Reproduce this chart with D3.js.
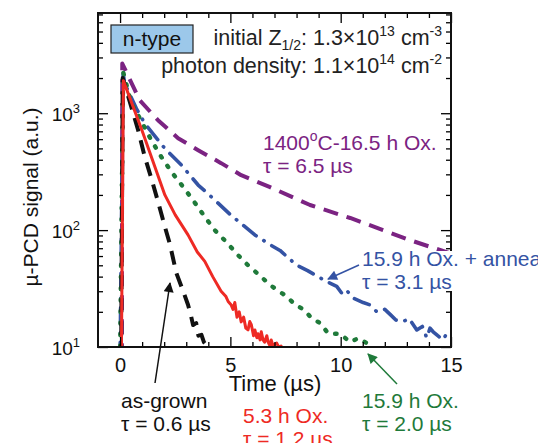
<!DOCTYPE html>
<html>
<head>
<meta charset="utf-8">
<script src="https://cdn.jsdelivr.net/npm/d3@7"></script>
<style>
body { margin: 0; background: #fff; }
svg text { font-family: Arial, "Liberation Sans", sans-serif; }
</style>
</head>
<body>
<svg id="chart" width="538" height="443"></svg>
<script>
// ---- data (time in us, signal in a.u.) ----
var asGrownT = [0.05, 0.12, 0.5, 0.82, 1.12, 1.42, 1.72, 2.03, 2.25, 2.55, 2.86, 3.08, 3.2, 3.31, 3.45, 3.55, 3.69, 3.8, 3.91, 4.0]
var asGrownV = [8, 2000, 1150, 716, 423, 277, 175, 107, 77, 43, 30, 23, 19, 15.4, 16, 12.5, 12.7, 11, 10.4, 9.5]

var ox53T = [0.06, 0.15, 1.0, 2.03, 2.5, 3.08, 3.5, 3.84, 4.2, 4.58, 4.8, 4.9, 5.03, 5.12, 5.2, 5.3, 5.4, 5.49, 5.6, 5.7, 5.8, 5.88, 5.95, 6.05, 6.11, 6.2, 6.25, 6.35, 6.4, 6.48, 6.55, 6.65, 6.71, 6.8, 6.85, 6.95, 7.0, 7.1, 7.2, 7.3]
var ox53V = [8, 1900, 707, 200, 135, 91, 65, 54, 40, 30, 27, 24.5, 23, 21, 24, 18, 20, 16.4, 18, 14.5, 14, 16.5, 15.5, 12.5, 14, 12, 13, 11.5, 13.5, 11.5, 11, 12.5, 11, 10.2, 11.5, 10, 10.5, 10.8, 9.9, 10.2]

var ox159T = [0.0, 0.14, 0.51, 0.74, 1.42, 1.87, 2.33, 2.86, 3.31, 3.84, 4.29, 4.82, 5.35, 5.8, 6.33, 6.79, 7.1, 7.56, 7.93, 8.31, 8.69, 9.07, 9.44, 9.97, 10.43, 10.8, 11.18, 11.56]
var ox159V = [8, 2255, 1210, 1026, 587, 423, 315, 234, 180, 130, 100, 79, 61, 50, 41, 34, 31, 27, 23, 21, 17.6, 16, 13, 13, 11, 11.9, 10.8, 11]

var annealT = [0.0, 0.14, 0.21, 0.74, 1.12, 2.03, 2.78, 3.54, 3.9, 5.03, 6.11, 6.85, 7.25, 8.01, 8.5, 9.07, 9.4, 9.82, 10.1, 10.3, 10.6, 11.02, 11.3, 11.64, 12.0, 12.24, 12.5, 12.83, 13.1, 13.45, 13.7, 13.9, 14.05, 14.19, 14.4, 14.64, 14.8, 14.96]
var annealV = [8, 2200, 1795, 1096, 817, 499, 360, 243, 212, 134, 91, 74, 67, 50, 45, 39, 36, 33, 28, 30, 26, 24, 23, 20, 21, 19, 17, 16.5, 17.5, 14, 15, 12, 14.5, 13.5, 12.5, 11.5, 13, 12]

var ox1400T = [0.08, 0.1, 0.89, 1.72, 2.63, 3.54, 4.58, 5.49, 6.8, 8.61, 10.43, 11.92, 13.15, 14.05, 15]
var ox1400V = [8, 2660, 1290, 871, 611, 483, 374, 295, 233, 164, 127, 100, 82, 72, 63]

var xMajorTicks = [0, 5, 10, 15]
var xMinorTicks = [1, 2, 3, 4, 6, 7, 8, 9, 11, 12, 13, 14]
var yMajorTicks = [10, 100, 1000]
var yMinorTicks = [20, 30, 40, 50, 60, 70, 80, 90, 200, 300, 400, 500, 600, 700, 800, 900, 2000, 3000, 4000, 5000, 6000, 7000]

// ---- layout ----
var plotLeft = 98, plotRight = 451, plotTop = 13, plotBottom = 347

var svg = d3.select("#chart")

var x = d3.scaleLinear().domain([-1, 15]).range([plotLeft, plotRight])
var y = d3.scaleLog().domain([10, 7200]).range([plotBottom, plotTop])

// series, drawn back to front
var series = [
	{ t: ox1400T, v: ox1400V, color: "#7b2382", width: 4, dash: "15 9", cap: "butt" },
	{ t: annealT, v: annealV, color: "#3453a4", width: 3.6, dash: "16 9 0.5 9", cap: "round" },
	{ t: ox159T, v: ox159V, color: "#1f7a3a", width: 4.4, dash: "1.5 10", cap: "round" },
	{ t: asGrownT, v: asGrownV, color: "#111111", width: 4, dash: "14 9", cap: "butt" },
	{ t: ox53T, v: ox53V, color: "#ee2a24", width: 3, dash: null, cap: "round" }
]

var defs = svg.append("defs")
defs.append("clipPath").attr("id", "plotClip")
	.append("rect")
	.attr("x", plotLeft).attr("y", plotTop)
	.attr("width", plotRight - plotLeft).attr("height", plotBottom - plotTop)

var line = d3.line()
	.x(function(d) { return x(d[0]) })
	.y(function(d) { return y(d[1]) })

var plot = svg.append("g").attr("clip-path", "url(#plotClip)")

series.forEach(function(s) {
	var pts = s.t.map(function(t, i) { return [t, s.v[i]] })
	plot.append("path")
		.datum(pts)
		.attr("d", line)
		.attr("fill", "none")
		.attr("stroke", s.color)
		.attr("stroke-width", s.width)
		.attr("stroke-linecap", s.cap)
		.attr("stroke-linejoin", "round")
		.attr("stroke-dasharray", s.dash)
})

// ---- axes (ticks point inward) ----
function styleAxis(g) {
	g.select(".domain").remove()
	g.selectAll(".tick line").attr("stroke", "#000").attr("stroke-width", 1.3)
	g.selectAll("text").attr("font-family", "Arial, 'Liberation Sans', sans-serif").attr("fill", "#111")
}

svg.append("g").attr("transform", "translate(0," + plotBottom + ")")
	.call(d3.axisBottom(x).tickValues(xMajorTicks).tickSize(-10).tickPadding(21).tickFormat(d3.format("d")))
	.call(styleAxis)
	.selectAll("text").attr("font-size", 20).attr("dy", "0.2em")

svg.append("g").attr("transform", "translate(0," + plotBottom + ")")
	.call(d3.axisBottom(x).tickValues(xMinorTicks).tickSize(-5).tickFormat(""))
	.call(styleAxis)

svg.append("g").attr("transform", "translate(0," + plotTop + ")")
	.call(d3.axisTop(x).tickValues(xMajorTicks).tickSize(-10).tickFormat(""))
	.call(styleAxis)

svg.append("g").attr("transform", "translate(0," + plotTop + ")")
	.call(d3.axisTop(x).tickValues(xMinorTicks).tickSize(-5).tickFormat(""))
	.call(styleAxis)

var yAxisG = svg.append("g").attr("transform", "translate(" + plotLeft + ",0)")
	.call(d3.axisLeft(y).tickValues(yMajorTicks).tickSize(-10).tickPadding(18))
	.call(styleAxis)

yAxisG.selectAll(".tick text")
	.text(null)
	.attr("font-size", 19)
	.attr("dy", "0.4em")
	.each(function(d) {
		var t = d3.select(this)
		t.append("tspan").text("10")
		t.append("tspan").attr("dy", -8).attr("font-size", 13).text(Math.round(Math.log10(d)))
	})

svg.append("g").attr("transform", "translate(" + plotLeft + ",0)")
	.call(d3.axisLeft(y).tickValues(yMinorTicks).tickSize(-5).tickFormat(""))
	.call(styleAxis)

svg.append("g").attr("transform", "translate(" + plotRight + ",0)")
	.call(d3.axisRight(y).tickValues(yMajorTicks).tickSize(-10).tickFormat(""))
	.call(styleAxis)

svg.append("g").attr("transform", "translate(" + plotRight + ",0)")
	.call(d3.axisRight(y).tickValues(yMinorTicks).tickSize(-5).tickFormat(""))
	.call(styleAxis)

// frame
svg.append("rect")
	.attr("x", plotLeft).attr("y", plotTop)
	.attr("width", plotRight - plotLeft).attr("height", plotBottom - plotTop)
	.attr("fill", "none").attr("stroke", "#111").attr("stroke-width", 2)

// axis titles
svg.append("text")
	.attr("x", 275).attr("y", 391)
	.attr("text-anchor", "middle").attr("font-size", 22).attr("fill", "#111")
	.text("Time (\u00b5s)")

svg.append("text")
	.attr("transform", "translate(38,197) rotate(-90)")
	.attr("text-anchor", "middle").attr("font-size", 21).attr("fill", "#111")
	.text("\u00b5-PCD signal (a.u.)")

// ---- header box and conditions ----
svg.append("rect")
	.attr("x", 111).attr("y", 25).attr("width", 82).attr("height", 28)
	.attr("fill", "#9cc8ea").attr("stroke", "#222").attr("stroke-width", 1.2)
svg.append("text")
	.attr("x", 152).attr("y", 46).attr("text-anchor", "middle")
	.attr("font-size", 21).attr("fill", "#111").text("n-type")

var cond1 = svg.append("text").attr("x", 442).attr("y", 45).attr("text-anchor", "end")
	.attr("font-size", 21.5).attr("fill", "#222")
cond1.append("tspan").text("initial Z")
cond1.append("tspan").attr("font-size", 14).attr("dy", 5).text("1/2")
cond1.append("tspan").attr("dy", -5).text(": 1.3\u00d710")
cond1.append("tspan").attr("font-size", 14).attr("dy", -9).text("13")
cond1.append("tspan").attr("dy", 9).text(" cm")
cond1.append("tspan").attr("font-size", 14).attr("dy", -9).text("-3")

var cond2 = svg.append("text").attr("x", 442).attr("y", 73).attr("text-anchor", "end")
	.attr("font-size", 21.5).attr("fill", "#222")
cond2.append("tspan").text("photon density: 1.1\u00d710")
cond2.append("tspan").attr("font-size", 14).attr("dy", -9).text("14")
cond2.append("tspan").attr("dy", 9).text(" cm")
cond2.append("tspan").attr("font-size", 14).attr("dy", -9).text("-2")

// ---- curve annotations ----
// white patch behind the blue label (it covers the right frame in the original)
svg.append("rect")
	.attr("x", 358).attr("y", 251).attr("width", 180).attr("height", 40)
	.attr("fill", "#fff")

function label(xp, yp, color, first, second) {
	var g = svg.append("g").attr("fill", color).attr("font-size", 21)
	var t1 = g.append("text").attr("x", xp).attr("y", yp)
	first(t1)
	g.append("text").attr("x", xp).attr("y", yp + 23).text(second)
}

label(263, 150, "#7b2382", function(t) {
	t.append("tspan").text("1400")
	t.append("tspan").attr("font-size", 14).attr("dy", -9).text("o")
	t.append("tspan").attr("dy", 9).text("C-16.5 h Ox.")
}, "\u03c4 = 6.5 \u00b5s")

label(362, 266, "#3453a4", function(t) { t.text("15.9 h Ox. + anneal") }, "\u03c4 = 3.1 \u00b5s")
label(362, 408, "#1f7a3a", function(t) { t.text("15.9 h Ox.") }, "\u03c4 = 2.0 \u00b5s")
label(243, 423, "#ee2a24", function(t) { t.text("5.3 h Ox.") }, "\u03c4 = 1.2 \u00b5s")
label(121, 408, "#111", function(t) { t.text("as-grown") }, "\u03c4 = 0.6 \u00b5s")

// arrows
var arrows = [
	{ from: [155, 383], to: [170, 283], color: "#111" },
	{ from: [359, 265], to: [328, 279], color: "#3453a4" },
	{ from: [397, 384], to: [368, 354], color: "#1f7a3a" }
]
arrows.forEach(function(a, i) {
	defs.append("marker")
		.attr("id", "head" + i)
		.attr("viewBox", "0 0 10 10")
		.attr("refX", 9).attr("refY", 5)
		.attr("markerWidth", 12).attr("markerHeight", 10)
		.attr("markerUnits", "userSpaceOnUse")
		.attr("orient", "auto")
		.append("path").attr("d", "M0,0 L10,5 L0,10 Z").attr("fill", a.color)
	svg.append("line")
		.attr("x1", a.from[0]).attr("y1", a.from[1])
		.attr("x2", a.to[0]).attr("y2", a.to[1])
		.attr("stroke", a.color).attr("stroke-width", 1.5)
		.attr("marker-end", "url(#head" + i + ")")
})
</script>
</body>
</html>
